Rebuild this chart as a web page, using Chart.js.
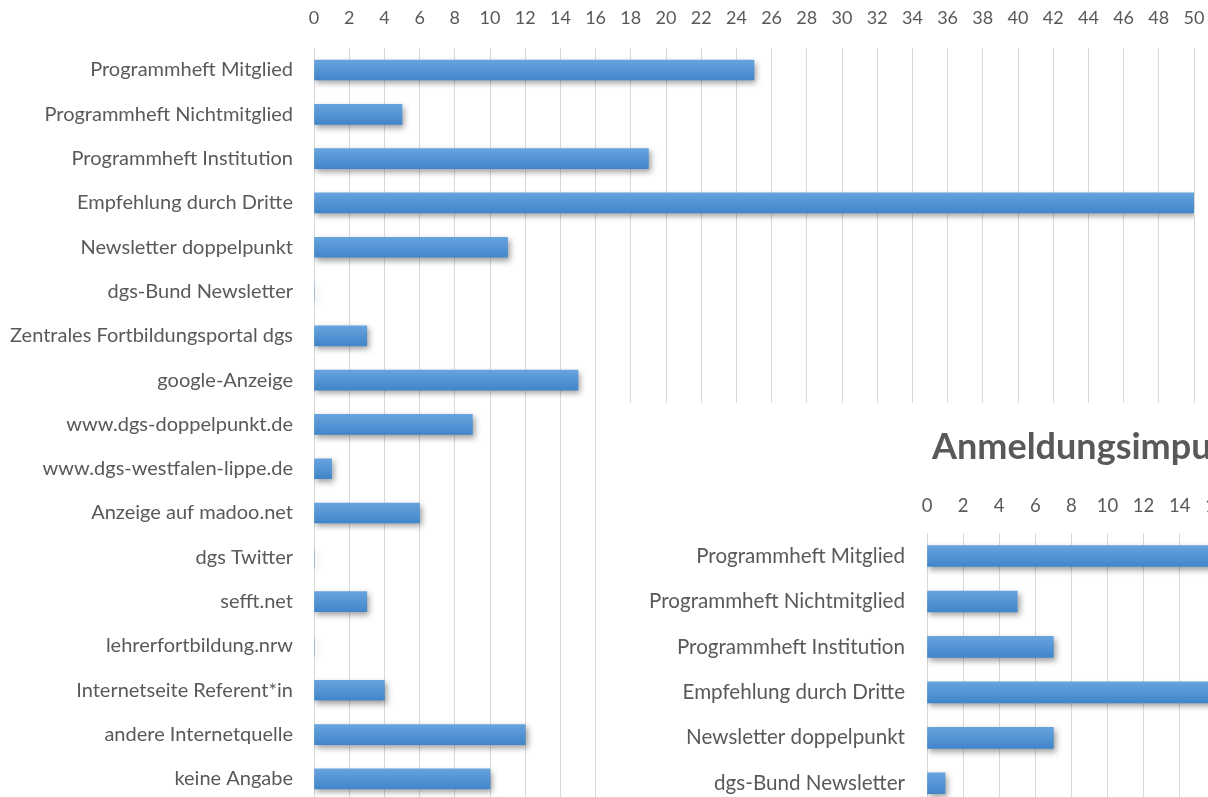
<!DOCTYPE html>
<html>
<head>
<meta charset="utf-8">
<script src="https://cdn.jsdelivr.net/npm/chart.js@4.4.1/dist/chart.umd.min.js"></script>
<style>
  html, body { margin: 0; padding: 0; width: 1208px; height: 797px; overflow: hidden; background: #fff; }
  canvas { display: block; }
  #chartA { position: absolute; left: 0; top: 0; }
  #chartB { position: absolute; left: 610px; top: 403px; background: #fff; }
</style>
</head>
<body>
<canvas id="chartA" width="1208" height="801"></canvas>
<canvas id="chartB" width="1053" height="403"></canvas>
<script>
// ---- Data: chart A (full list) ----
const categoriesA = [
  "Programmheft Mitglied",
  "Programmheft Nichtmitglied",
  "Programmheft Institution",
  "Empfehlung durch Dritte",
  "Newsletter doppelpunkt",
  "dgs-Bund Newsletter",
  "Zentrales Fortbildungsportal dgs",
  "google-Anzeige",
  "www.dgs-doppelpunkt.de",
  "www.dgs-westfalen-lippe.de",
  "Anzeige auf madoo.net",
  "dgs Twitter",
  "sefft.net",
  "lehrerfortbildung.nrw",
  "Internetseite Referent*in",
  "andere Internetquelle",
  "keine Angabe"
];
const valuesA = [25, 5, 19, 50, 11, 0, 3, 15, 9, 1, 6, 0, 3, 0, 4, 12, 10];
const axisMaxA = 50;
const axisStepA = 2;

// ---- Data: chart B (visible part) ----
const titleB = "Anmeldungsimpulse";
const categoriesB = [
  "Programmheft Mitglied",
  "Programmheft Nichtmitglied",
  "Programmheft Institution",
  "Empfehlung durch Dritte",
  "Newsletter doppelpunkt",
  "dgs-Bund Newsletter"
];
const valuesB = [22, 5, 7, 30, 7, 1];
const axisMaxB = 40;
const axisStepB = 2;

const TEXT = '#595959';
const GRID = '#d9d9d9';
const FONT = 'Lato, "Open Sans", sans-serif';

function barGradient(ctx, thickness) {
  const chart = ctx.chart;
  const ys = chart.scales && chart.scales.y;
  const base = '#5593d4';
  if (!ys || ctx.dataIndex === undefined) return base;
  const py = ys.getPixelForValue(ctx.dataIndex);
  if (!isFinite(py)) return base;
  const g = chart.ctx.createLinearGradient(0, py - thickness / 2, 0, py + thickness / 2);
  g.addColorStop(0, '#67a3de');
  g.addColorStop(1, '#4186ca');
  return g;
}

const shadowPlugin = {
  id: 'barShadow',
  beforeDatasetsDraw(chart) {
    const c = chart.ctx;
    c.save();
    c.shadowColor = 'rgba(0,0,0,0.38)';
    c.shadowBlur = 6;
    c.shadowOffsetX = 2;
    c.shadowOffsetY = 3;
  },
  afterDatasetsDraw(chart) {
    chart.ctx.restore();
  }
};

function makeOptions(opts) {
  return {
    indexAxis: 'y',
    responsive: false,
    maintainAspectRatio: false,
    devicePixelRatio: 1,
    animation: false,
    layout: { padding: { left: 0, top: 0, right: opts.padRight, bottom: 0 } },
    plugins: { legend: { display: false }, tooltip: { enabled: false }, title: { display: false } },
    scales: {
      x: {
        position: 'top',
        min: 0,
        max: opts.max,
        ticks: { stepSize: opts.step, color: TEXT, font: { family: FONT, size: opts.tickSize }, padding: opts.xPad, maxRotation: 0, autoSkip: false },
        grid: { color: GRID, lineWidth: 1, drawTicks: false },
        border: { display: false },
        afterFit(scale) {
          scale.height = opts.xHeight;
          scale.paddingLeft = 0;
          scale.paddingRight = 0;
        }
      },
      y: {
        ticks: { color: TEXT, font: { family: FONT, size: opts.labelSize }, padding: opts.yPad, autoSkip: false },
        grid: { display: false, drawTicks: false },
        border: { display: false },
        afterFit(scale) {
          scale.width = opts.yWidth;
          scale.paddingTop = 0;
          scale.paddingBottom = 0;
        }
      }
    }
  };
}

new Chart(document.getElementById('chartA'), {
  type: 'bar',
  data: {
    labels: categoriesA,
    datasets: [{
      data: valuesA,
      barThickness: 20,
      backgroundColor: (ctx) => barGradient(ctx, 20),
      borderWidth: 0
    }]
  },
  options: makeOptions({ max: axisMaxA, step: axisStepA, padRight: 14, xPad: 19, xHeight: 47.85, yPad: 21, yWidth: 314, tickSize: 18, labelSize: 20 }),
  plugins: [shadowPlugin]
});

const titlePluginB = {
  id: 'titleB',
  afterDraw(chart) {
    const c = chart.ctx;
    c.save();
    c.fillStyle = TEXT;
    c.font = 'bold 36px ' + FONT;
    c.textAlign = 'left';
    c.textBaseline = 'middle';
    c.fillText(titleB, 322, 44);
    c.restore();
  }
};

new Chart(document.getElementById('chartB'), {
  type: 'bar',
  data: {
    labels: categoriesB,
    datasets: [{
      data: valuesB,
      barThickness: 21,
      backgroundColor: (ctx) => barGradient(ctx, 21),
      borderWidth: 0
    }]
  },
  options: makeOptions({ max: axisMaxB, step: axisStepB, padRight: 14, xPad: 16.5, xHeight: 130.3, yPad: 22, yWidth: 317, tickSize: 18.5, labelSize: 20.6 }),
  plugins: [shadowPlugin, titlePluginB]
});
</script>
</body>
</html>
